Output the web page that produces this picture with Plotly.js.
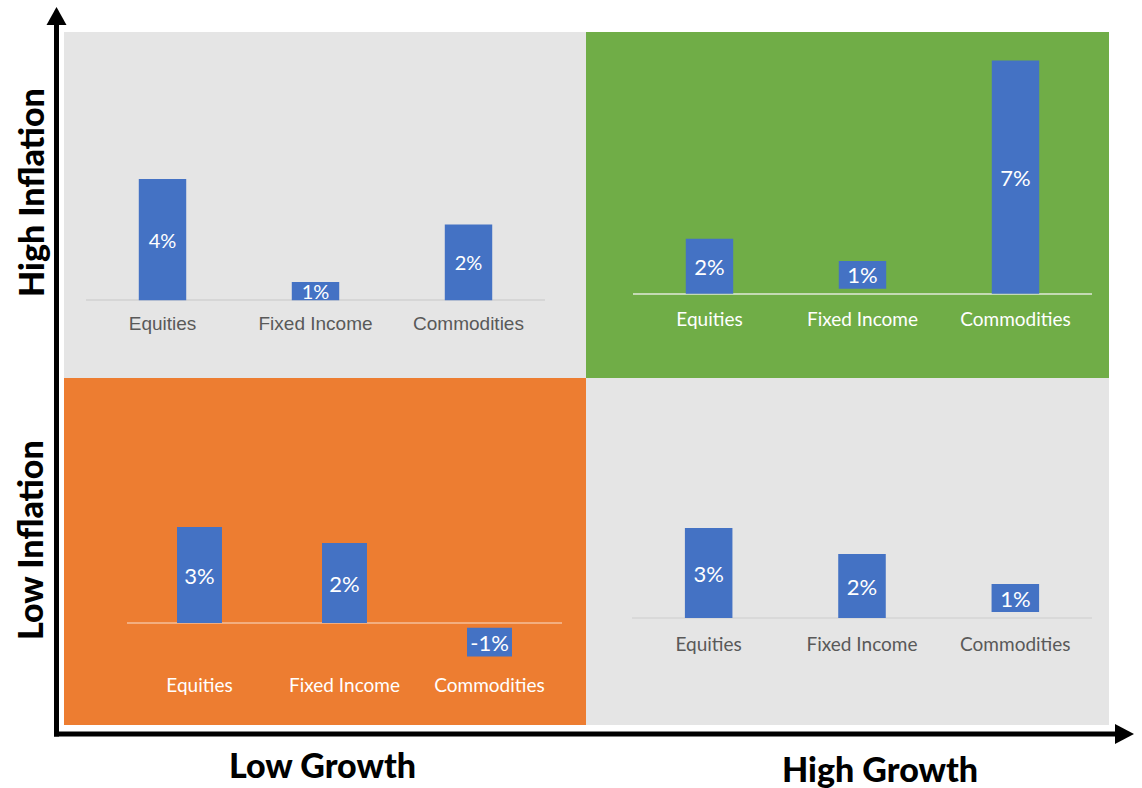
<!DOCTYPE html>
<html><head><meta charset="utf-8">
<script src="https://cdn.plot.ly/plotly-3.0.1.min.js"></script>
<style>html,body{margin:0;padding:0;background:#fff}#chart{width:1142px;height:788px}</style>
</head><body><div id="chart"></div>
<script>
// ---- data ----
const categories = ['Equities', 'Fixed Income', 'Commodities'];

const hiInflLoGrowth = [4.0, 0.6, 2.5];
const hiInflLoGrowthBase = [0, 0, 0];
const hiInflLoGrowthLabels = ['4%', '1%', '2%'];

const hiInflHiGrowth = [1.65, 0.83, 7.0];
const hiInflHiGrowthBase = [0, 0.15, 0];
const hiInflHiGrowthLabels = ['2%', '1%', '7%'];

const loInflLoGrowth = [3.0, 2.5, -0.9];
const loInflLoGrowthBase = [0, 0, -0.15];
const loInflLoGrowthLabels = ['3%', '2%', '-1%'];

const loInflHiGrowth = [3.0, 2.13, 0.93];
const loInflHiGrowthBase = [0, 0, 0.2];
const loInflHiGrowthLabels = ['3%', '2%', '1%'];

const quadrantTitles = ['High Inflation', 'Low Inflation', 'Low Growth', 'High Growth'];

// ---- layout helpers ----
const W = 1142, H = 788;
const px = x => x / W;
const py = y => 1 - y / H;

const GEO = 'Lato, "Open Sans", sans-serif';
const HELV = '"Liberation Sans", Arial, sans-serif';

// quadrant geometry: x extents of axis, y top / bottom of plotting area, zero line pixel, px per unit
const quads = [
  {id: '',  vals: hiInflLoGrowth, base: hiInflLoGrowthBase, labels: hiInflLoGrowthLabels,
   x0: 86, x1: 545, top: 32, bottom: 310, zero: 300.3, s: 30.3,
   zc: '#d6d6d6', tickColor: '#595959', tickFamily: HELV, tickSize: 19, labelSize: 20},
  {id: '2', vals: hiInflHiGrowth, base: hiInflHiGrowthBase, labels: hiInflHiGrowthLabels,
   x0: 633, x1: 1092, top: 32, bottom: 306, zero: 293.7, s: 33.3,
   zc: '#c4dab4', tickColor: '#ffffff', tickFamily: GEO, tickSize: 19, labelSize: 22},
  {id: '3', vals: loInflLoGrowth, base: loInflLoGrowthBase, labels: loInflLoGrowthLabels,
   x0: 127, x1: 562, top: 378, bottom: 672, zero: 623, s: 32,
   zc: '#f3ae7f', tickColor: '#ffffff', tickFamily: GEO, tickSize: 19, labelSize: 22},
  {id: '4', vals: loInflHiGrowth, base: loInflHiGrowthBase, labels: loInflHiGrowthLabels,
   x0: 632, x1: 1092, top: 378, bottom: 631, zero: 618, s: 30,
   zc: '#d9d9d9', tickColor: '#595959', tickFamily: GEO, tickSize: 19, labelSize: 22}
];

const traces = [];
const layout = {
  width: W, height: H,
  margin: {l: 0, r: 0, t: 0, b: 0},
  paper_bgcolor: '#ffffff',
  plot_bgcolor: 'rgba(0,0,0,0)',
  showlegend: false,
  bargap: 0.69,
  hovermode: false,
  shapes: [],
  annotations: []
};

quads.forEach(q => {
  traces.push({
    type: 'bar',
    x: categories,
    y: q.vals,
    base: q.base,
    text: q.labels,
    textposition: 'inside',
    insidetextanchor: 'middle',
    textangle: 0,
    constraintext: 'none',
    textfont: {color: '#ffffff', size: q.labelSize, family: GEO},
    marker: {color: '#4472C4', line: {width: 0}},
    xaxis: 'x' + q.id,
    yaxis: 'y' + q.id,
    hoverinfo: 'skip'
  });
  layout['xaxis' + q.id] = {
    domain: [px(q.x0), px(q.x1)],
    anchor: 'y' + q.id,
    type: 'category',
    range: [-0.5, 2.5],
    showgrid: false, zeroline: false, showline: false, ticks: '',
    tickfont: {color: q.tickColor, size: q.tickSize, family: q.tickFamily},
    fixedrange: true
  };
  layout['yaxis' + q.id] = {
    domain: [py(q.bottom), py(q.top)],
    anchor: 'x' + q.id,
    range: [(q.zero - q.bottom) / q.s, (q.zero - q.top) / q.s],
    showgrid: false, showticklabels: false, showline: false, ticks: '',
    zeroline: true, zerolinecolor: q.zc, zerolinewidth: 2,
    fixedrange: true
  };
});

// quadrant backgrounds
const panels = [
  [64, 586, 32, 378, '#e5e5e5'],
  [586, 1109, 32, 378, '#70ad47'],
  [64, 586, 378, 725, '#ed7d31'],
  [586, 1109, 378, 725, '#e5e5e5']
];
panels.forEach(p => layout.shapes.push({
  type: 'rect', xref: 'paper', yref: 'paper', layer: 'below',
  x0: px(p[0]), x1: px(p[1]), y0: py(p[3]), y1: py(p[2]),
  fillcolor: p[4], line: {width: 0}
}));

// axis arrows
layout.shapes.push({type: 'line', xref: 'paper', yref: 'paper',
  x0: px(56.5), x1: px(56.5), y0: py(736.5), y1: py(22), line: {color: '#000', width: 5}});
layout.shapes.push({type: 'line', xref: 'paper', yref: 'paper',
  x0: px(54), x1: px(1118), y0: py(734), y1: py(734), line: {color: '#000', width: 5}});
layout.shapes.push({type: 'path', xref: 'paper', yref: 'paper',
  path: `M ${px(46.5)},${py(25)} L ${px(66.5)},${py(25)} L ${px(56.5)},${py(7)} Z`,
  fillcolor: '#000', line: {width: 0}});
layout.shapes.push({type: 'path', xref: 'paper', yref: 'paper',
  path: `M ${px(1115)},${py(724)} L ${px(1115)},${py(744)} L ${px(1134)},${py(734)} Z`,
  fillcolor: '#000', line: {width: 0}});

// quadrant titles
const titleFont = {family: GEO, size: 34, color: '#000', weight: 900};
const titlePos = [
  [30, 193, -90], [29, 540, -90], [322, 764, 0], [880, 768, 0]
];
quadrantTitles.forEach((t, i) => layout.annotations.push({
  text: t, xref: 'paper', yref: 'paper',
  x: px(titlePos[i][0]), y: py(titlePos[i][1]),
  xanchor: 'center', yanchor: 'middle', textangle: titlePos[i][2],
  showarrow: false, font: titleFont
}));

Plotly.newPlot('chart', traces, layout, {displayModeBar: false, staticPlot: true});
</script>
</body></html>
